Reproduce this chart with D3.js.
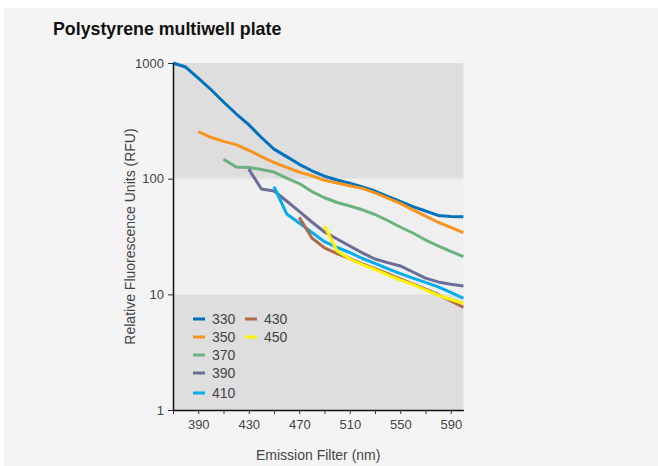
<!DOCTYPE html>
<html>
<head>
<meta charset="utf-8">
<script src="https://cdn.jsdelivr.net/npm/d3@7"></script>
<style>
  html, body { margin: 0; padding: 0; background: #fff; }
  svg { display: block; }
  text { font-family: "Liberation Sans", Arial, sans-serif; }
</style>
</head>
<body>
<div id="chart"></div>
<script>
// emission filter wavelengths (nm)
const wavelengths = [370, 380, 390, 400, 410, 420, 430, 440, 450, 460, 470, 480,
                     490, 500, 510, 520, 530, 540, 550, 560, 570, 580, 590, 600]

// excitation series, RFU (null = not measured)
const ex330 = [1000, 923, 741, 590, 460, 364, 293, 227, 180, 155, 133, 117,
               105, 97.3, 91.4, 84.7, 78.2, 70.2, 63.5, 57.4, 52.5, 48.1, 47.1, 46.9]
const ex350 = [null, null, 255, 228, 210, 197, 176, 155, 138, 125, 114, 106,
               96.8, 91.8, 87, 82.4, 75.3, 67.9, 61.1, 53.8, 47.4, 42, 37.9, 34.2]
const ex370 = [null, null, null, null, 147, 126, 125, 120, 114, 101, 90.8, 77.4,
               68.4, 62.2, 58, 53.8, 49, 43.5, 38.2, 33.9, 29.5, 26.2, 23.5, 21.2]
const ex390 = [null, null, null, null, null, null, 121, 81.5, 78.2, 64.1, 52.2, 42.2,
               34.6, 30.1, 26.2, 22.8, 20.2, 18.8, 17.6, 15.6, 13.8, 12.8, 12.2, 11.8]
const ex410 = [null, null, null, null, null, null, null, null, 85.3, 49.5, 41.4, 34.3,
               28.5, 25.4, 23, 20.4, 18.5, 16.7, 15.1, 13.8, 12.7, 11.6, 10.4, 9.25]
const ex430 = [null, null, null, null, null, null, null, null, null, null, 46.3, 30.7,
               25.2, 22.5, 20.4, 18.3, 16.7, 15.1, 13.6, 12.3, 11.1, 9.97, 8.75, 7.72]
const ex450 = [null, null, null, null, null, null, null, null, null, null, null, null,
               39, 23.7, 20.2, 18.1, 16.4, 14.7, 13.3, 12.2, 10.9, 9.86, 9.02, 8.33]

const seriesNames = ['330', '350', '370', '390', '410', '430', '450']
const seriesValues = [ex330, ex350, ex370, ex390, ex410, ex430, ex450]
const seriesColors = ['#0072bc', '#f7941d', '#6db182', '#6b6d96', '#00aeef', '#b0694a', '#fff200']

const yTicks = [1, 10, 100, 1000]
const xTicks = [370, 390, 410, 430, 450, 470, 490, 510, 530, 550, 570, 590]
const xLabels = [390, 430, 470, 510, 550, 590]

const width = 658
const height = 466
const margin = { top: 63, right: 194.6, bottom: 56, left: 173 }

const svg = d3.select('#chart')
    .append('svg')
    .attr('width', width)
    .attr('height', height)

// panel background
svg.append('rect')
    .attr('x', 4).attr('y', 8)
    .attr('width', width - 4).attr('height', height - 8)
    .attr('fill', '#f4f4f4')

svg.append('text')
    .attr('x', 53).attr('y', 35)
    .attr('font-size', 17.8)
    .attr('font-weight', 'bold')
    .attr('fill', '#111')
    .text('Polystyrene multiwell plate')

const x = d3.scaleLinear()
    .domain([370, 600])
    .range([margin.left, width - margin.right])

const y = d3.scaleLog()
    .domain([1, 1000])
    .range([height - margin.bottom, margin.top])

// alternating bands per decade
const bands = [[1, 10, '#dedede'], [10, 100, '#efefef'], [100, 1000, '#dedede']]
svg.append('g')
    .selectAll('rect')
    .data(bands)
    .enter()
    .append('rect')
    .attr('x', x(370))
    .attr('width', x(600) - x(370))
    .attr('y', d => y(d[1]))
    .attr('height', d => y(d[0]) - y(d[1]))
    .attr('fill', d => d[2])

const line = d3.line()
    .defined(d => d[1] != null)
    .x(d => x(d[0]))
    .y(d => y(d[1]))

svg.append('g')
    .selectAll('path')
    .data(seriesValues)
    .enter()
    .append('path')
    .attr('d', vals => line(wavelengths.map((w, i) => [w, vals[i]])))
    .attr('fill', 'none')
    .attr('stroke', (d, i) => seriesColors[i])
    .attr('stroke-width', 3)
    .attr('stroke-linejoin', 'round')

// axes
const yAxis = svg.append('g')
    .attr('transform', 'translate(' + margin.left + ',0)')
    .call(d3.axisLeft(y).tickValues(yTicks).tickFormat(d3.format('d')).tickSize(5).tickSizeOuter(0).tickPadding(4))
yAxis.select('.domain').attr('stroke', '#111').attr('stroke-width', 1.5)
yAxis.selectAll('.tick line').attr('stroke', '#333')
yAxis.selectAll('.tick text').attr('font-size', 13).attr('fill', '#444')
    .attr('font-family', '"Liberation Sans", Arial, sans-serif')

const xAxis = svg.append('g')
    .attr('transform', 'translate(0,' + y(1) + ')')
    .call(d3.axisBottom(x).tickValues(xTicks)
        .tickFormat(d => xLabels.includes(d) ? d : '')
        .tickSize(4).tickSizeOuter(0).tickPadding(6))
xAxis.select('.domain').attr('stroke', '#111').attr('stroke-width', 1.5)
xAxis.selectAll('.tick line').attr('stroke', '#333')
xAxis.selectAll('.tick text').attr('font-size', 13).attr('fill', '#444')
    .attr('font-family', '"Liberation Sans", Arial, sans-serif')

svg.append('text')
    .attr('x', (x(370) + x(600)) / 2)
    .attr('y', 460)
    .attr('text-anchor', 'middle')
    .attr('font-size', 14)
    .attr('fill', '#444')
    .text('Emission Filter (nm)')

svg.append('text')
    .attr('transform', 'translate(135,' + (y(1) + y(1000)) / 2 + ') rotate(-90)')
    .attr('text-anchor', 'middle')
    .attr('font-size', 14)
    .attr('fill', '#444')
    .text('Relative Fluorescence Units (RFU)')

// legend
const legendPos = [[193, 319], [193, 337], [193, 355], [193, 373], [193, 393], [245, 319], [245, 337]]
const legend = svg.append('g')
    .selectAll('g')
    .data(seriesNames)
    .enter()
    .append('g')
    .attr('transform', (d, i) => 'translate(' + legendPos[i][0] + ',' + legendPos[i][1] + ')')
legend.append('line')
    .attr('x1', 0).attr('x2', 12)
    .attr('stroke', (d, i) => seriesColors[i])
    .attr('stroke-width', 3)
legend.append('text')
    .attr('x', 19)
    .attr('dy', '0.36em')
    .attr('font-size', 14)
    .attr('fill', '#444')
    .text(d => d)
</script>
</body>
</html>
